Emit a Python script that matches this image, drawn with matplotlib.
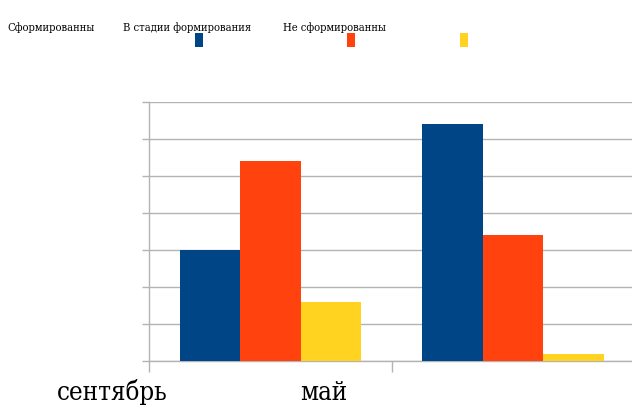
import matplotlib
matplotlib.use("Agg")
import matplotlib.pyplot as plt
from matplotlib.patches import Rectangle
import numpy as np

# data (percent of pupils)
categories = ["сентябрь", "май"]
series_names = ["Сформированны", "В стадии формирования", "Не сформированны"]
formed = [30, 64]
forming = [54, 34]
not_formed = [16, 2]
y_ticks = list(range(0, 71, 10))

colors = ["#004586", "#ff420e", "#ffd320"]
grid_gray = "#b3b3b3"
W, H = 632, 405
font = dict(family="DejaVu Serif", fontstretch="condensed")

fig = plt.figure(figsize=(W / 100, H / 100), dpi=100)
# axes box in pixels: left spine x=149, baseline y=361, top grid y=102
ax = fig.add_axes([149.3 / W, (H - 361) / H, 484.8 / W, 259 / H])

x = np.arange(len(categories))
bw = 0.25
for i, vals in enumerate([formed, forming, not_formed]):
    ax.bar(x + (i - 1) * bw, vals, width=bw, color=colors[i],
           edgecolor="none", zorder=3)

ax.set_xlim(-0.5, len(categories) - 0.5)
ax.set_ylim(0, 70)
ax.set_yticks(y_ticks)
ax.set_yticklabels([])
ax.yaxis.grid(True, color=grid_gray, linewidth=1.0)
ax.set_axisbelow(True)

# ticks sit on category boundaries, labels are drawn separately below
ax.set_xticks(np.arange(-0.5, len(categories), 1.0))
ax.set_xticklabels([])
ax.tick_params(axis="x", length=8, width=1.0, color=grid_gray, direction="out")
ax.tick_params(axis="y", length=5, width=1.0, color=grid_gray, direction="out")
for side in ("top", "right"):
    ax.spines[side].set_visible(False)
for side in ("left", "bottom"):
    ax.spines[side].set_color(grid_gray)
    ax.spines[side].set_linewidth(1.0)

# category labels (shifted left of their groups, as in the source)
label_x = [57, 300]
for name, px in zip(categories, label_x):
    fig.text(px / W, 1 - 400 / H, name, ha="left", va="baseline",
             fontsize=18.5, color="black", **font)

# legend laid out by hand: texts in one row, colour keys below them
legend_text_x = [7, 123, 283]
legend_key_x = [195, 347, 460]
for name, tx, kx, c in zip(series_names, legend_text_x, legend_key_x, colors):
    fig.text(tx / W, 1 - 31 / H, name, ha="left", va="baseline",
             fontsize=8, color="black", **font)
    fig.add_artist(Rectangle((kx / W, 1 - 47 / H), 8 / W, 14 / H,
                             transform=fig.transFigure, color=c, lw=0))

fig.savefig("out.png", dpi=100)
